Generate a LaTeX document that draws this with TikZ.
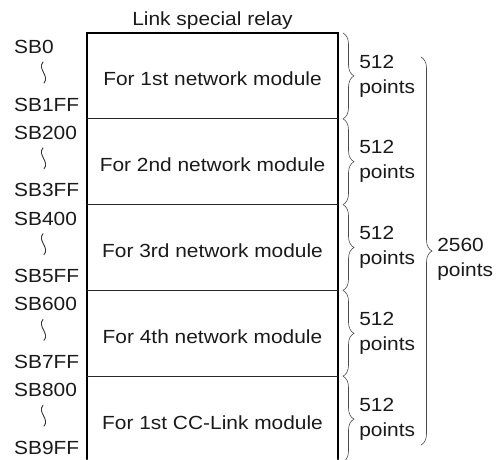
\documentclass[tikz,border=0pt]{standalone}
\usepackage{fontspec}
\setmainfont{Liberation Sans}[FakeStretch=1.1]
\usetikzlibrary{decorations.pathreplacing}
\definecolor{bracegray}{HTML}{4A4A4A}
\definecolor{textdark}{HTML}{1A1A1A}
\tikzset{
  framepart/.style={line width=2pt, draw=black},
  divider/.style={line width=0.9pt, draw=black!85},
  rangebrace/.style={
    decorate,
    decoration={brace, amplitude=11pt},
    draw=bracegray,
    line width=0.6pt,
  },
  squiggle/.style={draw=black!80, line width=0.9pt},
  devlabel/.style={anchor=west, inner sep=0pt, text=textdark},
  areatext/.style={inner sep=0pt, text=textdark},
  pointtext/.style={anchor=west, align=left, inner sep=0pt, text=textdark},
}

\begin{document}
\begin{tikzpicture}[x=1pt, y=-1pt, font=\fontsize{19}{25}\selectfont, line cap=round]
  \useasboundingbox (0,0) rectangle (500,459);

  \node[areatext] (title) at (212.5,21) {Link special relay};
  \draw[framepart] (87,459) -- (87,33) -- (338,33) -- (338,459);

  \foreach \i/\first/\last/\what in {0/SB0/SB1FF/1st network,1/SB200/SB3FF/2nd network,
      2/SB400/SB5FF/3rd network,3/SB600/SB7FF/4th network,4/SB800/SB9FF/1st CC-Link} {
    \pgfmathsetmacro{\segtop}{33 + \i*85.8}
    \pgfmathsetmacro{\segbot}{\segtop + 85.8}
    \ifnum\i>0
      \draw[divider] (87,\segtop) -- (338,\segtop);
    \fi
    \node[areatext] (area-\i) at (212.5,\segtop+46) {For \what\ module};
    \node[devlabel] (first-\i) at (14,\segtop+14) {\first};
    \node[devlabel] (last-\i) at (14,\segtop+71.5) {\last};
    \draw[squiggle] (43,\segtop+29) .. controls (37,\segtop+36) and (50,\segtop+43) .. (44,\segtop+50);
    \draw[rangebrace] (343,\segtop) -- (343,\segbot)
      node[midway, pointtext, xshift=16pt] (pts-\i) {512\\points};
  }

  \draw[rangebrace] (421,57) -- (421,445)
    node[midway, pointtext, xshift=16pt, yshift=-8pt] (total) {2560\\points};
\end{tikzpicture}
\end{document}
